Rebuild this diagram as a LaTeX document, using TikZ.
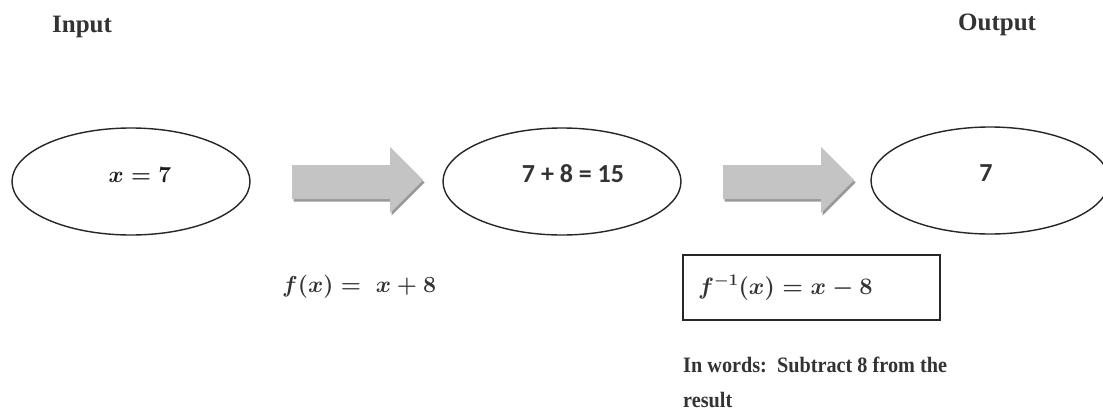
\documentclass[tikz,border=0pt]{standalone}
\usepackage{fontspec}
\usetikzlibrary{shapes.geometric}
\newfontfamily\labfont[FakeStretch=0.92]{Liberation Serif}
\newfontfamily\headfont{Liberation Serif}
\newfontfamily\numfont{Carlito}
\begin{document}
\begin{tikzpicture}[x=1pt,y=-1pt,
  ell/.style={ellipse, draw=black!85, line width=1.4pt, minimum width=238pt, minimum height=107pt, inner sep=0pt},
  headlab/.style={font=\headfont\bfseries\fontsize{25}{30}\selectfont, inner sep=0pt, text=black!80},
  wordlab/.style={font=\labfont\bfseries\fontsize{22}{35}\selectfont, inner sep=0pt, text=black!80, align=left},
  numlab/.style={font=\numfont\bfseries\fontsize{26}{30}\selectfont, inner sep=0pt, text=black!80},
  mathlab/.style={font=\fontsize{25}{30}\selectfont\boldmath, inner sep=0pt, text=black!80},
  arrowshape/.style={fill=black!23},
  arrowshadow/.style={fill=black!40},
  fbox/.style={draw=black!85, line width=1.4pt, minimum width=257pt, minimum height=65pt, inner sep=0pt}
]
\useasboundingbox (0,0) rectangle (1103,415);
\fill[white] (0,0) rectangle (1103,415);

% titles
\node[headlab, anchor=base west] (input) at (52,32) {Input};
\node[headlab, anchor=base west] (output) at (958,30) {Output};

% ellipses
\node[ell] (e1) at (131,181.5) {};
\node[ell] (e2) at (562,181.5) {};
\node[ell] (e3) at (990,180.5) {};

% ellipse texts
\node[mathlab, anchor=base, text=black!90] (t1) at (140,182) {\scalebox{0.92}{$x = 7$}};
\node[numlab, anchor=base] (t2) at (573,182) {7 + 8 = 15};
\node[numlab, anchor=base] (t3) at (986,181) {7};

% block arrows
\foreach \sx/\nm in {292/a1, 723/a2}{
  \fill[arrowshadow, shift={(\sx+1.5,2.5)}] (0,165) -- (98,165) -- (98,147) -- (131,180) -- (98,213) -- (98,199) -- (0,199) -- cycle;
  \fill[arrowshape, shift={(\sx,0)}] (0,165) -- (98,165) -- (98,147) -- (131,180) -- (98,213) -- (98,199) -- (0,199) -- cycle;
}

% function label
\node[mathlab, anchor=base west] (f) at (282,292) {\scalebox{0.93}{$f(x) =\; x + 8$}};

% inverse box
\node[fbox] (box) at (811.5,287.5) {};
\node[mathlab, anchor=base west] (finv) at (698,294) {\scalebox{0.95}{$f^{-1}(x) = x - 8$}};

% words
\node[wordlab, anchor=north west] (words) at (683,357) {In words:\ \ Subtract 8 from the\\result};
\end{tikzpicture}
\end{document}
